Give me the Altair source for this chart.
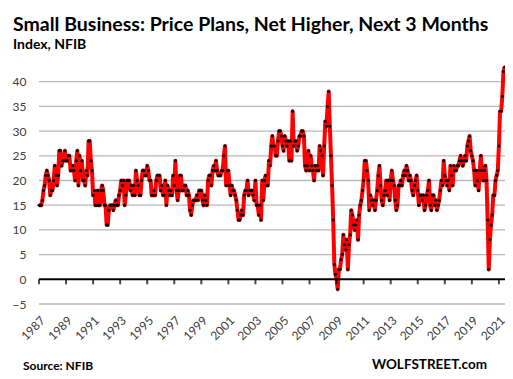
import altair as alt
import pandas as pd

# Monthly values (Jan..Dec)
y1987 = [15, 15, 15, 16, 18, 19, 21, 22, 21, 20, 17, 18]
y1988 = [18, 20, 23, 21, 19, 21, 26, 26, 23, 24, 24, 26]
y1989 = [24, 24, 25, 25, 22, 22, 23, 22, 20, 24, 26, 19]
y1990 = [25, 22, 24, 20, 20, 19, 22, 21, 28, 28, 24, 22]
y1991 = [17, 18, 15, 15, 18, 15, 15, 18, 19, 18, 15, 15]
y1992 = [11, 11, 14, 15, 15, 15, 14, 15, 16, 15, 15, 17]
y1993 = [18, 20, 19, 20, 15, 17, 20, 20, 20, 18, 19, 17]
y1994 = [19, 17, 22, 20, 19, 17, 17, 20, 22, 22, 21, 21]
y1995 = [23, 22, 20, 20, 17, 17, 18, 17, 20, 21, 21, 21]
y1996 = [18, 19, 17, 17, 20, 15, 19, 18, 17, 18, 17, 21]
y1997 = [19, 24, 18, 16, 18, 21, 21, 18, 18, 19, 19, 17]
y1998 = [18, 17, 14, 13, 15, 16, 16, 16, 17, 16, 18, 18]
y1999 = [18, 16, 15, 17, 16, 15, 20, 21, 21, 19, 22, 23]
y2000 = [22, 24, 22, 21, 21, 21, 22, 22, 25, 27, 19, 22]
y2001 = [22, 19, 17, 19, 18, 18, 17, 16, 14, 12, 12, 13]
y2002 = [14, 13, 17, 18, 18, 20, 17, 18, 18, 18, 17, 16]
y2003 = [20, 15, 15, 13, 15, 12, 20, 16, 20, 21, 19, 19]
y2004 = [24, 23, 27, 29, 27, 27, 25, 25, 28, 30, 30, 29]
y2005 = [27, 26, 29, 28, 27, 28, 24, 28, 24, 34, 27, 28]
y2006 = [28, 26, 27, 29, 29, 30, 30, 29, 23, 22, 23, 26]
y2007 = [22, 25, 23, 22, 20, 23, 22, 23, 22, 27, 26, 25]
y2008 = [21, 27, 32, 31, 35, 38, 31, 25, 19, 12, 3, 1]
y2009 = [0, -2, 2, 2, 4, 5, 9, 7, 6, 8, 2, 7]
y2010 = [9, 14, 13, 11, 10, 11, 12, 8, 13, 15, 16, 18]
y2011 = [20, 24, 24, 22, 20, 14, 17, 16, 15, 16, 14, 16]
y2012 = [18, 21, 23, 19, 16, 15, 17, 18, 20, 17, 20, 16]
y2013 = [20, 22, 20, 19, 16, 14, 15, 19, 19, 20, 19, 21]
y2014 = [22, 21, 23, 22, 20, 21, 20, 18, 17, 19, 20, 21]
y2015 = [18, 15, 17, 17, 16, 17, 14, 15, 17, 18, 20, 15]
y2016 = [14, 17, 17, 15, 16, 14, 15, 16, 18, 20, 19, 24]
y2017 = [21, 20, 19, 20, 18, 23, 21, 19, 23, 22, 22, 23]
y2018 = [23, 24, 25, 24, 23, 24, 25, 24, 27, 28, 29, 26]
y2019 = [25, 24, 22, 19, 22, 20, 18, 22, 25, 22, 20, 22]
y2020 = [23, 20, 12, 2, 8, 11, 13, 17, 17, 20, 21, 22]
y2021 = [27, 34, 34, 37, 42, 43]

years_data = [
    (1987, y1987), (1988, y1988), (1989, y1989), (1990, y1990), (1991, y1991),
    (1992, y1992), (1993, y1993), (1994, y1994), (1995, y1995), (1996, y1996),
    (1997, y1997), (1998, y1998), (1999, y1999), (2000, y2000), (2001, y2001),
    (2002, y2002), (2003, y2003), (2004, y2004), (2005, y2005), (2006, y2006),
    (2007, y2007), (2008, y2008), (2009, y2009), (2010, y2010), (2011, y2011),
    (2012, y2012), (2013, y2013), (2014, y2014), (2015, y2015), (2016, y2016),
    (2017, y2017), (2018, y2018), (2019, y2019), (2020, y2020), (2021, y2021),
]

x_ticks = list(range(1987, 2022, 2))
y_ticks = [-5, 0, 5, 10, 15, 20, 25, 30, 35, 40]

rows = []
for yr, vals in years_data:
    for i, v in enumerate(vals):
        rows.append({"t": yr + i / 12.0, "v": v})
df = pd.DataFrame(rows)
ticks_df = pd.DataFrame({"t": x_ticks})
grid_df = pd.DataFrame({"g": [float(g) for g in y_ticks if g != 0]})
one_df = pd.DataFrame({"a": [0]})

FONT = "Lato"
xscale = alt.Scale(domain=[1987, 2021.45], nice=False, zero=False)
yscale = alt.Scale(domain=[-5.1, 45], nice=False)

xaxis = alt.Axis(values=x_ticks, format="d", labelAngle=-45, domain=False,
                 ticks=False, grid=False, title=None, labelPadding=10,
                 labelOverlap=False, labelFont=FONT, labelFontSize=12,
                 labelColor="#404040")
yaxis = alt.Axis(values=y_ticks, domain=False, ticks=False, title=None, grid=False,
                 labelPadding=13, labelOverlap=False,
                 labelFont=FONT, labelFontSize=12, labelColor="#404040")

grid = alt.Chart(grid_df).mark_rule(color="#b8b8b8", strokeWidth=1.3, opacity=1).encode(
    y=alt.Y("g:Q", scale=yscale, axis=yaxis))

line = alt.Chart(df).mark_line(color="#ff0000", strokeWidth=4, strokeJoin="round").encode(
    x=alt.X("t:Q", scale=xscale, axis=xaxis),
    y=alt.Y("v:Q", scale=yscale, axis=yaxis),
)

dots = alt.Chart(df).mark_circle(color="black", size=9, opacity=1).encode(
    x=alt.X("t:Q", scale=xscale, axis=xaxis),
    y=alt.Y("v:Q", scale=yscale, axis=yaxis),
)

zero = alt.Chart(one_df).mark_rule(color="black", strokeWidth=2).encode(
    y=alt.Y("a:Q", scale=yscale, axis=yaxis))
zticks = alt.Chart(ticks_df).mark_tick(color="black", orient="vertical", size=5,
                                       thickness=2, yOffset=2.5).encode(
    x=alt.X("t:Q", scale=xscale, axis=xaxis),
    y=alt.Y("zero:Q", scale=yscale, axis=yaxis)).transform_calculate(zero="0")

source = alt.Chart(one_df).mark_text(text="Source: NFIB", font=FONT, fontSize=12,
                                     fontWeight="bold", align="left", baseline="alphabetic",
                                     color="black").encode(
    x=alt.value(-16), y=alt.value(313))
wolf = alt.Chart(one_df).mark_text(text="WOLFSTREET.com", font=FONT, fontSize=13.5,
                                   fontWeight="bold", align="right", baseline="alphabetic",
                                   color="black").encode(
    x=alt.value(448), y=alt.value(312))

chart = alt.layer(grid, line, zero, zticks, dots, source, wolf).properties(
    width=466, height=247.5,
    autosize=alt.AutoSizeParams(type="none"),
    padding={"left": 31, "top": 49, "right": 0, "bottom": 70},
    title=alt.TitleParams(
        text="Small Business: Price Plans, Net Higher, Next 3 Months",
        subtitle="Index, NFIB",
        anchor="start", frame="group", dx=-26, offset=4,
        font=FONT, fontSize=19.5, fontWeight="bold", color="black",
        subtitleFont=FONT, subtitleFontSize=14, subtitleFontWeight="bold",
        subtitleColor="black", subtitlePadding=3,
    ),
).configure(background="white", view=alt.ViewConfig(stroke=None))

chart.save("out.html", embed_options={"renderer": "svg", "actions": False})
